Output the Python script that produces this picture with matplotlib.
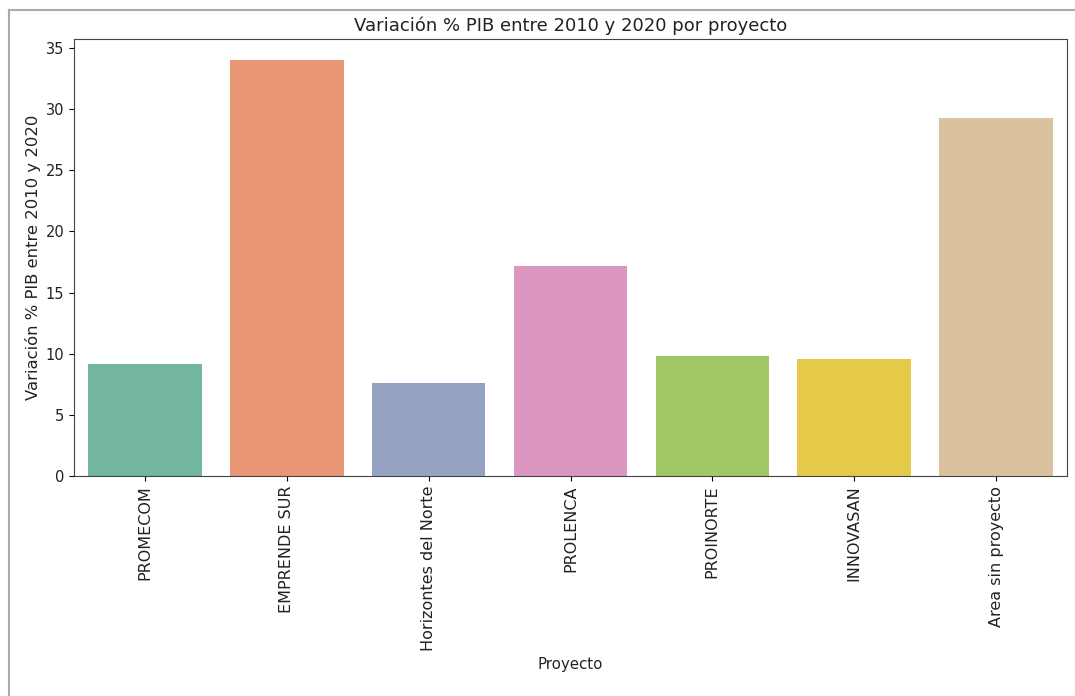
import matplotlib
matplotlib.use("Agg")
import matplotlib.pyplot as plt
import seaborn as sns
import pandas as pd
from matplotlib.lines import Line2D

# Valores
proyectos = ['PROMECOM', 'EMPRENDE SUR', 'Horizontes del Norte', 'PROLENCA',
             'PROINORTE', 'INNOVASAN', 'Area sin proyecto']
variacion = [9.17, 34.04, 7.58, 17.18, 9.82, 9.57, 29.27]

df = pd.DataFrame({'Proyecto': proyectos,
                   'Variación % PIB entre 2010 y 2020': variacion})

W, H = 1075, 696
fig = plt.figure(figsize=(W / 100, H / 100), dpi=100)
ax = fig.add_axes([74 / W, 1 - 476 / H, (1067 - 74) / W, (476 - 39) / H])

sns.barplot(data=df, x='Proyecto', y='Variación % PIB entre 2010 y 2020',
            hue='Proyecto', palette='Set2', legend=False, ax=ax)

ax.set_title('Variación % PIB entre 2010 y 2020 por proyecto', fontsize=13, color='#222222')
ax.set_xlabel('Proyecto', fontsize=10.8, color='#222222', labelpad=4)
ax.set_ylabel('Variación % PIB entre 2010 y 2020', fontsize=11.8, color='#222222', labelpad=3)
ax.tick_params(axis='x', labelrotation=90, labelsize=11.5, labelcolor='#222222')
ax.tick_params(axis='y', labelsize=10.5, labelcolor='#222222')
for s in ax.spines.values():
    s.set_color('#444444')

# marco gris del recorte
fig.add_artist(Line2D([9 / W, 9 / W], [0, 1 - 10 / H], transform=fig.transFigure,
                      color='#aaaaaa', lw=1.5))
fig.add_artist(Line2D([9 / W, 1], [1 - 10 / H, 1 - 10 / H], transform=fig.transFigure,
                      color='#aaaaaa', lw=1.5))

fig.savefig('out.png', dpi=100)
